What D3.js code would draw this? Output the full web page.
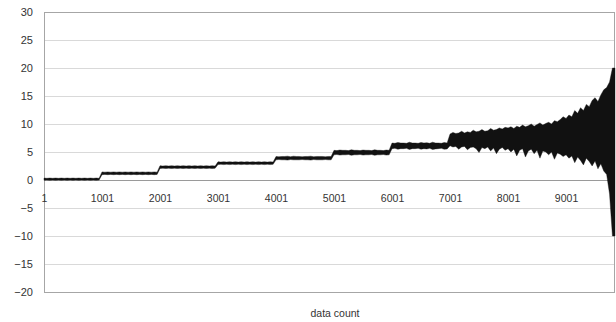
<!DOCTYPE html>
<html>
<head>
<meta charset="utf-8">
<script src="https://cdn.jsdelivr.net/npm/d3@7"></script>
<style>
  html, body { margin: 0; padding: 0; background: #fff; }
  svg { display: block; }
  text { font-family: "Liberation Sans", Arial, sans-serif; fill: #333; }
</style>
</head>
<body>
<svg id="chart" width="616" height="322"></svg>
<script>
// Category labels along the horizontal axis
const xTickLabels = ["1", "1001", "2001", "3001", "4001", "5001", "6001", "7001", "8001", "9001"];
const yTicks = [-20, -15, -10, -5, 0, 5, 10, 15, 20, 25, 30];
const totalCount = 9845;

// Signal envelope, one sample every 50 counts starting at count 1
const upper = [
  // 1-1000
  0.35, 0.3, 0.35, 0.3, 0.35, 0.3, 0.35, 0.3, 0.35, 0.3, 0.35, 0.3, 0.35, 0.3, 0.35, 0.3, 0.35, 0.3, 0.35, 0.3,
  // 1001-2000
  1.45, 1.4, 1.45, 1.4, 1.45, 1.4, 1.45, 1.4, 1.45, 1.4, 1.45, 1.4, 1.45, 1.4, 1.45, 1.4, 1.45, 1.4, 1.45, 1.4,
  // 2001-3000
  2.55, 2.5, 2.55, 2.5, 2.55, 2.5, 2.55, 2.5, 2.55, 2.5, 2.55, 2.5, 2.55, 2.5, 2.55, 2.5, 2.55, 2.5, 2.55, 2.5,
  // 3001-4000
  3.25, 3.2, 3.25, 3.2, 3.25, 3.2, 3.25, 3.2, 3.25, 3.2, 3.25, 3.2, 3.25, 3.2, 3.25, 3.2, 3.25, 3.2, 3.25, 3.2,
  // 4001-5000
  4.2, 4.15, 4.2, 4.2, 4.25, 4.15, 4.25, 4.2, 4.2, 4.15, 4.2, 4.2, 4.25, 4.15, 4.2, 4.2, 4.2, 4.15, 4.2, 4.2,
  // 5001-6000
  5.3, 5.25, 5.35, 5.3, 5.3, 5.25, 5.4, 5.3, 5.3, 5.25, 5.35, 5.3, 5.3, 5.25, 5.4, 5.3, 5.3, 5.25, 5.35, 5.3,
  // 6001-7000
  6.6, 6.55, 6.7, 6.6, 6.6, 6.55, 6.75, 6.6, 6.6, 6.55, 6.7, 6.6, 6.65, 6.55, 6.75, 6.6, 6.6, 6.55, 6.7, 6.6,
  // 7001-8000
  8.2, 8.5, 8.3, 8.4, 8.7, 8.4, 8.6, 8.5, 8.9, 8.6, 8.7, 9.0, 8.7, 8.8, 9.2, 8.9, 9.0, 9.3, 9.1, 9.4,
  // 8001-9000
  9.3, 9.5, 9.2, 9.6, 9.4, 9.8, 9.5, 9.7, 10.0, 9.6, 9.9, 10.2, 9.8, 10.1, 10.3, 10.0, 10.6, 10.4, 10.8, 11.3,
  // 9001-9845
  11.0, 11.6, 11.3, 12.4, 11.9, 12.9, 12.4, 13.5, 13.1, 14.2, 14.7, 14.0, 15.2, 16.1, 16.5, 17.5, 20.0
];
const lower = [
  -0.05, 0.0, -0.05, 0.0, -0.05, 0.0, -0.05, 0.0, -0.05, 0.0, -0.05, 0.0, -0.05, 0.0, -0.05, 0.0, -0.05, 0.0, -0.05, 0.0,
  0.95, 1.0, 0.95, 1.0, 0.95, 1.0, 0.95, 1.0, 0.95, 1.0, 0.95, 1.0, 0.95, 1.0, 0.95, 1.0, 0.95, 1.0, 0.95, 1.0,
  2.05, 2.1, 2.05, 2.1, 2.05, 2.1, 2.05, 2.1, 2.05, 2.1, 2.05, 2.1, 2.05, 2.1, 2.05, 2.1, 2.05, 2.1, 2.05, 2.1,
  2.75, 2.8, 2.75, 2.8, 2.75, 2.8, 2.75, 2.8, 2.75, 2.8, 2.75, 2.8, 2.75, 2.8, 2.75, 2.8, 2.75, 2.8, 2.75, 2.8,
  3.6, 3.65, 3.6, 3.6, 3.55, 3.65, 3.6, 3.6, 3.6, 3.65, 3.6, 3.6, 3.55, 3.65, 3.6, 3.6, 3.6, 3.65, 3.6, 3.6,
  4.5, 4.55, 4.45, 4.5, 4.5, 4.55, 4.4, 4.5, 4.5, 4.55, 4.45, 4.5, 4.5, 4.55, 4.4, 4.5, 4.5, 4.55, 4.45, 4.5,
  5.6, 5.65, 5.5, 5.6, 5.6, 5.65, 5.45, 5.6, 5.6, 5.65, 5.5, 5.6, 5.55, 5.65, 5.45, 5.55, 5.6, 5.65, 5.5, 5.55,
  6.1, 5.9, 6.0, 5.5, 5.9, 6.0, 5.4, 5.8, 5.9, 5.6, 4.9, 5.8, 5.6, 5.9, 5.2, 5.7, 4.7, 5.5, 5.8, 5.3,
  5.6, 5.0, 5.5, 4.3, 5.3, 5.6, 4.1, 5.2, 5.5, 4.7, 5.3, 3.9, 5.2, 5.0, 4.5, 5.0, 3.7, 4.8, 4.6, 4.2,
  4.5, 3.9, 4.3, 3.1, 4.1, 3.5, 2.7, 3.9, 3.3, 2.5, 3.4, 2.0, 2.9, 1.6, 1.0, -2.5, -10.0
];
const sampleCounts = d3.range(1, totalCount, 50); // 1, 51, 101, ...

const margin = { left: 44, top: 12 };
const plotRight = 615, plotBottom = 292;

const svg = d3.select("#chart");

const x = d3.scaleLinear().domain([1, totalCount]).range([margin.left, plotRight]);
const y = d3.scaleLinear().domain([-20, 30]).range([plotBottom, margin.top]);

// Horizontal gridlines
svg.append("g")
  .selectAll("line")
  .data(yTicks)
  .join("line")
  .attr("x1", margin.left).attr("x2", plotRight)
  .attr("y1", d => Math.round(y(d)) + 0.5).attr("y2", d => Math.round(y(d)) + 0.5)
  .attr("stroke", "#d9d9d9").attr("stroke-width", 1);

// Plot frame
svg.append("rect")
  .attr("x", margin.left + 0.5).attr("y", margin.top + 0.5)
  .attr("width", plotRight - margin.left - 1).attr("height", plotBottom - margin.top)
  .attr("fill", "none").attr("stroke", "#a6a6a6").attr("stroke-width", 1);

// Category axis crossing at zero
svg.append("line")
  .attr("x1", margin.left).attr("x2", plotRight)
  .attr("y1", Math.round(y(0)) + 0.5).attr("y2", Math.round(y(0)) + 0.5)
  .attr("stroke", "#9a9a9a");

// Value axis labels
const yAxis = d3.axisLeft(y).tickValues(yTicks).tickSize(0).tickPadding(11);
svg.append("g")
  .attr("transform", `translate(${margin.left},0)`)
  .call(yAxis)
  .call(g => g.select(".domain").remove())
  .call(g => g.selectAll("text")
    .attr("font-size", 11)
    .attr("font-family", "Liberation Sans, Arial, sans-serif")
    .attr("fill", "#333"));

// Signal band
const pts = sampleCounts.map((c, i) => ({ c, hi: upper[i], lo: lower[i] }));
pts.push({ c: totalCount, hi: upper[upper.length - 1], lo: lower[lower.length - 1] });

const area = d3.area()
  .x(d => x(d.c))
  .y0(d => y(d.lo))
  .y1(d => y(d.hi))
  .curve(d3.curveLinear);

svg.append("path")
  .datum(pts)
  .attr("d", area)
  .attr("fill", "#111")
  .attr("stroke", "#111")
  .attr("stroke-width", 0.4)
  .attr("stroke-linejoin", "round");

// Category labels sitting just under the zero line
const xTickValues = xTickLabels.map(s => +s);
const xAxis = d3.axisBottom(x).tickValues(xTickValues).tickFormat((d, i) => xTickLabels[i]).tickSize(0).tickPadding(15);
svg.append("g")
  .attr("transform", `translate(0,${y(0)})`)
  .call(xAxis)
  .call(g => g.select(".domain").remove())
  .call(g => g.selectAll("text")
    .attr("font-size", 10.5)
    .attr("font-family", "Liberation Sans, Arial, sans-serif")
    .attr("fill", "#333"));

// Axis title
svg.append("text")
  .attr("x", 335).attr("y", 317)
  .attr("text-anchor", "middle")
  .attr("font-size", 10.5)
  .text("data count");
</script>
</body>
</html>
